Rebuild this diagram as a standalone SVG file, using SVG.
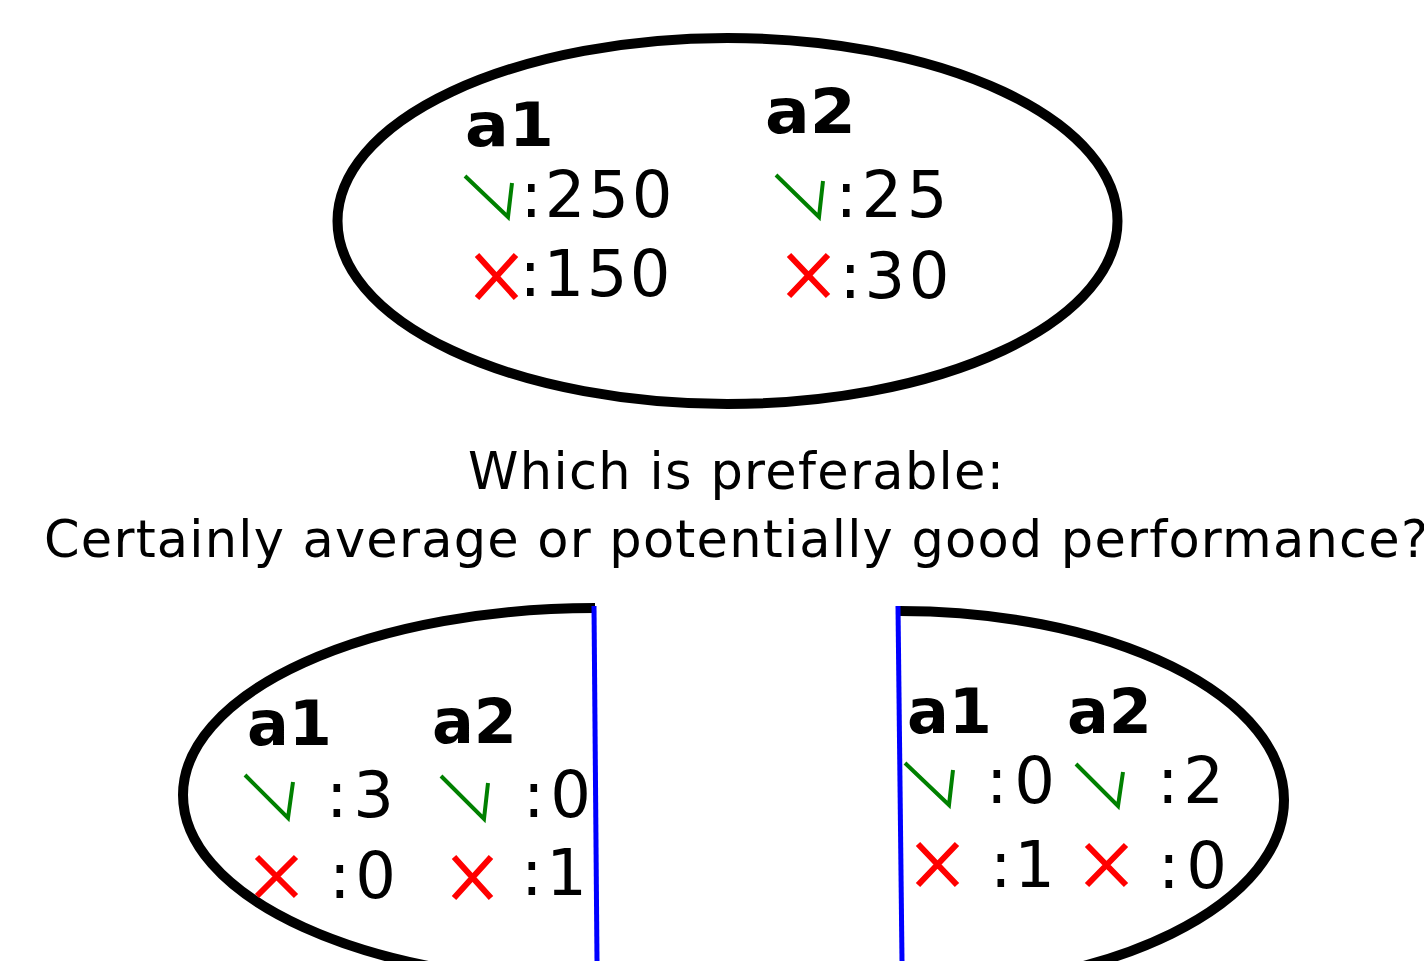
<svg xmlns="http://www.w3.org/2000/svg" width="1424" height="961" viewBox="0 0 1424 961">
<style>
text{font-family:"DejaVu Sans",Verdana,sans-serif;fill:#000}
.lbl{font-weight:bold}
.num{font-size:64px}
.chk{fill:none;stroke:#008000;stroke-width:4;stroke-linejoin:miter}
.x{fill:none;stroke:#ff0000;stroke-width:6}
.ell{fill:none;stroke:#000;stroke-width:10}
.div{stroke:#0000ff;stroke-width:5}
.title{font-size:51px}
</style>
<rect width="1424" height="961" fill="#fff"/>
<g id="top-node">
<ellipse class="ell" cx="727.5" cy="221" rx="390" ry="183"/>
<text class="lbl" x="465" y="146" font-size="61" textLength="89" lengthAdjust="spacingAndGlyphs">a1</text>
<text class="lbl" x="765" y="133" font-size="62" textLength="91" lengthAdjust="spacingAndGlyphs">a2</text>
<path class="chk" d="M465,176 L508,217 L512,183"/>
<text class="num" x="520.5" y="217" textLength="152">:250</text>
<path class="x" d="M477,255 L516,298 M516,255 L477,298"/>
<text class="num" x="519.5" y="296" textLength="151">:150</text>
<path class="chk" d="M776,175 L819,217 L823,181"/>
<text class="num" x="835.5" y="217" textLength="112">:25</text>
<path class="x" d="M789,255 L828,296 M828,255 L789,296"/>
<text class="num" x="839.5" y="298" textLength="110">:30</text>
</g>
<g id="question">
<text class="title" x="736" y="489" text-anchor="middle" textLength="536">Which is preferable:</text>
<text class="title" x="736" y="557" text-anchor="middle" textLength="1384">Certainly average or potentially good performance?</text>
</g>
<g id="left-node">
<path class="ell" d="M595,608 A412,187 0 0 0 595,982"/>
<text class="lbl" x="247" y="745" font-size="62">a1</text>
<text class="lbl" x="432" y="743" font-size="62">a2</text>
<path class="chk" d="M245,775 L288,818 L293,782"/>
<text class="num" x="326" y="817" font-size="62" textLength="68">:3</text>
<path class="chk" d="M441,776 L484,819 L488,783"/>
<text class="num" x="523" y="817" font-size="62" textLength="68">:0</text>
<path class="x" d="M257,857 L296,896 M296,857 L257,896"/>
<text class="num" x="329" y="898" font-size="62" textLength="67">:0</text>
<path class="x" d="M454,857 L491,898 M491,857 L454,898"/>
<text class="num" x="521" y="895" font-size="62" textLength="66">:1</text>
</g>
<g id="right-node">
<path class="ell" d="M900,611 A384,189 0 0 1 900,989"/>
<text class="lbl" x="907" y="733" font-size="62">a1</text>
<text class="lbl" x="1067" y="733" font-size="62">a2</text>
<path class="chk" d="M905,763 L949,805 L953,770"/>
<text class="num" x="986" y="803" font-size="62" textLength="69">:0</text>
<path class="chk" d="M1076,764 L1118,806 L1123,772"/>
<text class="num" x="1157" y="803" font-size="62" textLength="67">:2</text>
<path class="x" d="M918,844 L957,885 M957,844 L918,885"/>
<text class="num" x="990" y="887" font-size="62" textLength="65">:1</text>
<path class="x" d="M1087,845 L1126,885 M1126,845 L1087,885"/>
<text class="num" x="1158" y="888" font-size="62" textLength="69">:0</text>
</g>
<g id="connectors">
<line class="div" x1="594" y1="606" x2="597" y2="961"/>
<line class="div" x1="898" y1="606" x2="902" y2="961"/>
</g>
</svg>
